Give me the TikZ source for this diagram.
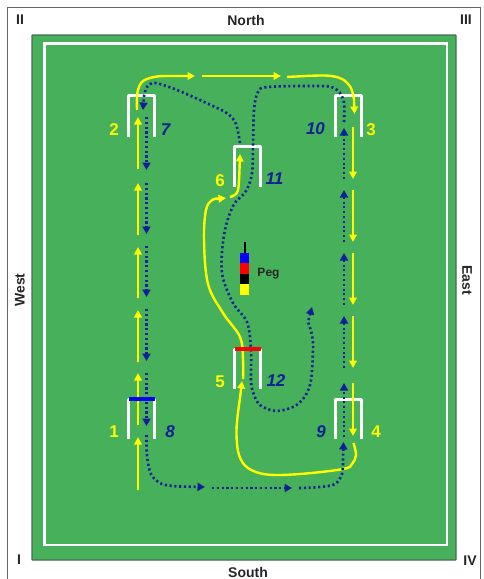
\documentclass[tikz,border=0pt]{standalone}
\usepackage{fontspec}
\setmainfont{Liberation Sans}
\usetikzlibrary{arrows.meta}
\definecolor{field}{HTML}{46B05A}
\definecolor{edgegr}{HTML}{4A6B50}
\definecolor{yl}{HTML}{FFFF00}
\definecolor{nv}{HTML}{0F1F96}
\tikzset{
  yarrow/.style={draw=yl,line width=2.4pt,-{Triangle[length=7.5pt,width=7.5pt]}},
  yplain/.style={draw=yl,line width=2.4pt},
  barrow/.style={draw=nv,line width=2.6pt,dash pattern=on 2.1pt off 2.7pt,-{Triangle[length=7.5pt,width=8pt,sep=0pt]}},
  hoop/.style={draw=white,line width=3pt,line join=round},
  ylab/.style={text=yl,font=\bfseries\fontsize{17}{17}\selectfont,inner sep=0pt},
  blab/.style={text=nv,font=\bfseries\itshape\fontsize{17}{17}\selectfont,inner sep=0pt},
  side/.style={text=black!85,font=\bfseries\fontsize{14}{14}\selectfont,inner sep=0pt},
}
\begin{document}
\begin{tikzpicture}[x=1pt,y=-1pt]
\useasboundingbox (0,0) rectangle (484,579);
% frame
\draw[draw=black!60,line width=1pt] (7.5,579) -- (7.5,7.5) -- (480.5,7.5) -- (480.5,579);
% lawn
\draw[fill=field,draw=edgegr,line width=1.2pt,rounded corners=0.5pt] (32,35) rectangle (456,560);
\draw[draw=white,line width=2.8pt] (44.5,43.5) rectangle (447,545);
% side labels
\node[side] (nII) at (20,20) {II};
\node[side] (nNorth) at (246,20) {North};
\node[side] (nIII) at (466,20) {III};
\node[side,rotate=90] (nWest) at (20,290) {West};
\node[side,rotate=-90] (nEast) at (467,280) {East};
\node[side] (nSouth) at (248,572) {South};
\node[side] (nI) at (19,560) {I};
\node[side] (nIV) at (470,561) {IV};
% hoops
\draw[hoop] (128.5,137) -- (128.5,95.5) -- (154.5,95.5) -- (154.5,137);
\draw[hoop] (335,137) -- (335,95.5) -- (361,95.5) -- (361,137);
\draw[hoop] (234.5,187) -- (234.5,146.5) -- (260,146.5) -- (260,187);
\draw[hoop] (128.5,439) -- (128.5,399) -- (154.5,399) -- (154.5,439);
\draw[hoop] (234.5,389) -- (234.5,349) -- (260,349) -- (260,389);
\draw[hoop] (335,439) -- (335,399) -- (361,399) -- (361,439);
% peg
\draw[black,line width=2pt] (244.5,242) -- (244.5,253);
\fill[blue] (240,252.5) rectangle (249,263);
\fill[red] (240,263) rectangle (249,273.5);
\fill[black] (240,273.5) rectangle (249,284);
\fill[yl] (240,284) rectangle (249,295);
\node[font=\bfseries\fontsize{12}{12}\selectfont,text=black!85,inner sep=0pt] (npeg) at (268.5,273.5) {Peg};
% yellow straight runs, left
\foreach \a/\b in {490/437,425/373,362/310,298/247,235/183,169/117}
  \draw[yarrow] (138,\a) -- (138,\b);
% yellow straight runs, right
\foreach \a/\b in {127/179,190/242,253/305,316/368,383/436}
  \draw[yarrow] (353,\a) -- (353,\b);
% blue straight runs, left
\foreach \a/\b in {117/170,183/234,246/297,309/361,373/426}
  \draw[barrow] (146.5,\a) -- (146.5,\b);
% blue straight runs, right
\foreach \a/\b in {437/383,368/316,305/253,242/190,179/128}
  \draw[barrow] (344,\a) -- (344,\b);
% yellow curves
\draw[yarrow] plot[smooth,tension=.55] coordinates {(137,110) (137.5,92) (143,81) (157,76.5) (175,76)} -- (195,76);
\draw[yarrow] (202,76) -- (281,76);
\draw[yarrow] plot[smooth,tension=.55] coordinates {(287,77) (325,75.5) (342,79) (351,88) (354,100)} -- (354.5,114);
\draw[yarrow] plot[smooth,tension=.6] coordinates {(353.5,443) (356,455) (352,464) (343,469) (300,474) (267,474.5) (248,468) (239,455) (236.5,435) (237.5,417) (240,398)} -- (242,381);
\draw[yplain] plot[smooth,tension=.6] coordinates {(243,379) (243,360) (240,337) (223,313) (208,284) (204,240) (206,210) (212,200) (218,198.5)};
\draw[yarrow] (216,199) -- (226,198);
\draw[yarrow] plot[smooth,tension=.6] coordinates {(230,197) (236,194) (238.5,187) (239.5,170)} -- (240,154);
% blue curves
\draw[barrow] plot[smooth,tension=.55] coordinates {(240,143) (236,124) (228,114) (213,106) (177,90) (155,83) (147,87) (144,96)} -- (143,110);
\draw[barrow] plot[smooth,tension=.55] coordinates {(146.5,435) (147,455) (151,474) (162,484) (180,486.5)} -- (205,487);
\draw[barrow] (212,488) -- (292,488);
\draw[barrow] plot[smooth,tension=.55] coordinates {(299,488) (320,487) (335,484) (342,474) (343,460)} -- (343.5,442);
\draw[barrow] plot[smooth,tension=.55] coordinates {(344,122) (343.5,100) (334,88) (315,86) (268,87) (258,92) (254,110) (253,146) (252,173) (246,191) (233,206) (224,235) (222,273) (233,303) (247,322) (251,350) (251,380) (253,392) (260,405) (277,411) (298,404) (310,385) (313,350) (312,335) (308,322)} -- (312,307);
% crossbars
\draw[blue,line width=3.4pt] (129,399) -- (154.5,399);
\draw[red,line width=3.4pt] (235,349) -- (260.5,349);
% numbers
\node[ylab] (y2) at (114,130) {2};
\node[blab] (b7) at (165.5,130) {7};
\node[ylab] (y3) at (371,130) {3};
\node[blab] (b10) at (315.5,129) {10};
\node[ylab] (y6) at (220,180.5) {6};
\node[blab] (b11) at (274.5,179) {11};
\node[ylab] (y1) at (114,432) {1};
\node[blab] (b8) at (170,432) {8};
\node[ylab] (y5) at (220,382) {5};
\node[blab] (b12) at (276,381) {12};
\node[blab] (b9) at (321,432) {9};
\node[ylab] (y4) at (376,432) {4};
\end{tikzpicture}
\end{document}
